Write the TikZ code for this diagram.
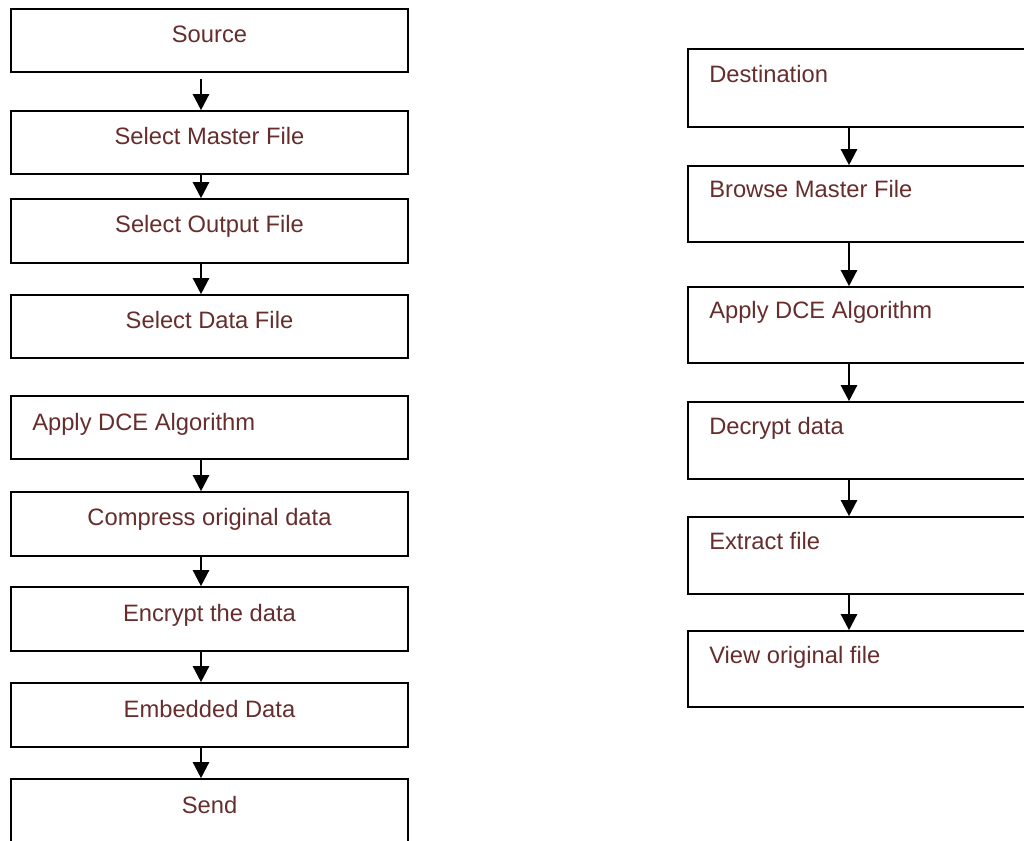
\documentclass[tikz,border=0pt]{standalone}
\usepackage{fontspec}
\setmainfont{Liberation Sans}
\usetikzlibrary{arrows.meta,fit}
\definecolor{txt}{RGB}{102,45,45}
\begin{document}
\begin{tikzpicture}[x=0.75pt,y=-0.75pt,
  box/.style={draw=black,line width=1.2pt,rectangle,inner sep=0pt},
  lbl/.style={text=txt,font=\fontsize{17.8}{20}\selectfont,inner sep=0pt},
  arr/.style={line width=1.8pt,-{Triangle[width=12pt,length=12pt]}}]
\useasboundingbox (0,0) rectangle (1024,841);
\clip (0,0) rectangle (1024,841);

% arrow axes of the two columns
\coordinate (la) at (201,0);
\coordinate (ra) at (849,0);

% sender column
\node[box,fit={(11,9) (408,72)}]    (s1) {};
\node[box,fit={(11,111) (408,174)}] (s2) {};
\node[box,fit={(11,199) (408,263)}] (s3) {};
\node[box,fit={(11,295) (408,358)}] (s4) {};
\node[box,fit={(11,396) (408,459)}] (s5) {};
\node[box,fit={(11,492) (408,556)}] (s6) {};
\node[box,fit={(11,587) (408,651)}] (s7) {};
\node[box,fit={(11,683) (408,747)}] (s8) {};
\node[box,fit={(11,779) (408,880)}] (s9) {};

\node[lbl,anchor=base] (t1) at (209.5,43)  {Source};
\node[lbl,anchor=base] (t2) at (209.5,145) {Select Master File};
\node[lbl,anchor=base] (t3) at (209.5,233) {Select Output File};
\node[lbl,anchor=base] (t4) at (209.5,329) {Select Data File};
\node[lbl,anchor=base west] (t5) at (32,430) {Apply DCE Algorithm};
\node[lbl,anchor=base] (t6) at (209.5,525) {Compress original data};
\node[lbl,anchor=base] (t7) at (209.5,621) {Encrypt the data};
\node[lbl,anchor=base] (t8) at (209.5,717) {Embedded Data};
\node[lbl,anchor=base] (t9) at (209.5,813) {Send};

\draw[arr,shorten <=5pt] (s1.south -| la) -- (s2.north -| la);
\draw[arr] (s2.south -| la) -- (s3.north -| la);
\draw[arr] (s3.south -| la) -- (s4.north -| la);
\draw[arr] (s5.south -| la) -- (s6.north -| la);
\draw[arr] (s6.south -| la) -- (s7.north -| la);
\draw[arr] (s7.south -| la) -- (s8.north -| la);
\draw[arr] (s8.south -| la) -- (s9.north -| la);

% receiver column
\node[box,fit={(688,49) (1040,127)}]  (d1) {};
\node[box,fit={(688,166) (1040,242)}] (d2) {};
\node[box,fit={(688,287) (1040,363)}] (d3) {};
\node[box,fit={(688,402) (1040,479)}] (d4) {};
\node[box,fit={(688,517) (1040,594)}] (d5) {};
\node[box,fit={(688,631) (1040,707)}] (d6) {};

\node[lbl,anchor=base west] (u1) at (709,83)  {Destination};
\node[lbl,anchor=base west] (u2) at (709,198) {Browse Master File};
\node[lbl,anchor=base west] (u3) at (709,319) {Apply DCE Algorithm};
\node[lbl,anchor=base west] (u4) at (709,434) {Decrypt data};
\node[lbl,anchor=base west] (u5) at (709,549) {Extract file};
\node[lbl,anchor=base west] (u6) at (709,663) {View original file};

\draw[arr] (d1.south -| ra) -- (d2.north -| ra);
\draw[arr] (d2.south -| ra) -- (d3.north -| ra);
\draw[arr] (d3.south -| ra) -- (d4.north -| ra);
\draw[arr] (d4.south -| ra) -- (d5.north -| ra);
\draw[arr] (d5.south -| ra) -- (d6.north -| ra);
\end{tikzpicture}
\end{document}
